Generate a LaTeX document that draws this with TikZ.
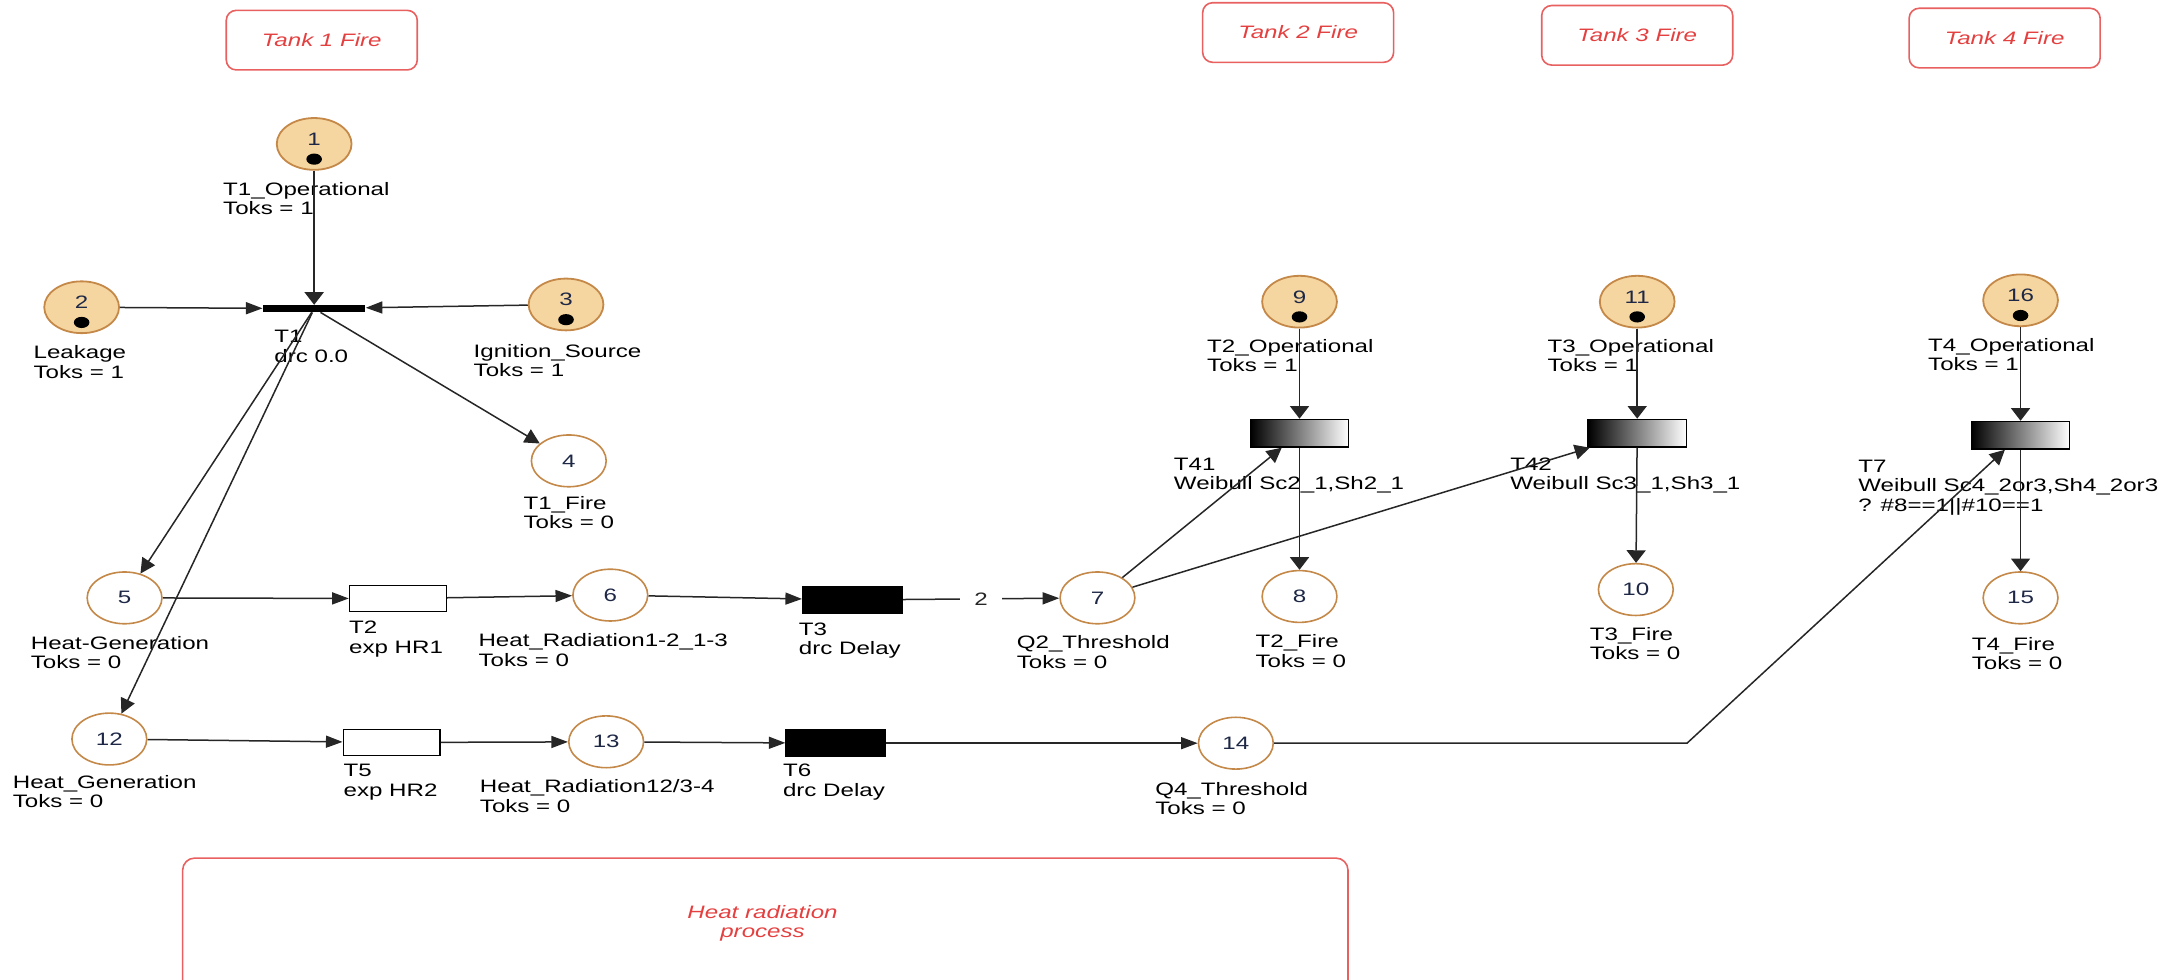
\documentclass[tikz,border=0pt]{standalone}
\usepackage{fontspec}
\setmainfont{Liberation Sans}[FakeStretch=1.34]
\usepackage{tikz}
\usetikzlibrary{shapes.geometric, arrows.meta, positioning}
\definecolor{placefill}{RGB}{246,214,160}
\definecolor{placeedge}{RGB}{196,136,72}
\definecolor{tankred}{RGB}{228,64,64}
\definecolor{tankedge}{RGB}{232,96,96}
\definecolor{numblue}{RGB}{30,40,70}
\newcommand{\lblfont}{\fontsize{9pt}{9.7pt}\selectfont}
\tikzstyle{mplace} = [ellipse, draw=placeedge, fill=placefill, line width=0.9pt, minimum width=37.4pt, minimum height=25.9pt, inner sep=0, text=numblue, text height=6pt, text depth=4.6pt]
\tikzstyle{wplace} = [ellipse, draw=placeedge, fill=white, line width=0.8pt, minimum width=37.4pt, minimum height=25.9pt, inner sep=0, text=numblue]
\tikzstyle{bar} = [rectangle, fill=black, minimum width=51.2pt, minimum height=3.4pt, inner sep=0]
\tikzstyle{etrans} = [rectangle, draw, fill=white, line width=0.7pt, minimum width=48.4pt, minimum height=13.1pt, inner sep=0]
\tikzstyle{dtrans} = [rectangle, draw, fill=black, line width=0.7pt, minimum width=49.8pt, minimum height=13.1pt, inner sep=0]
\tikzstyle{wtrans} = [rectangle, draw, left color=black, right color=white, line width=0.7pt, minimum width=49.1pt, minimum height=13.8pt, inner sep=0]
\tikzstyle{lbl} = [anchor=north west, align=left, inner sep=0, text=black]
\tikzstyle{tank} = [rectangle, rounded corners=5pt, draw=tankedge, line width=0.8pt, text=tankred, font=\lblfont\itshape, minimum width=95.5pt, minimum height=29.8pt]
\tikzstyle{hrbox} = [rectangle, rounded corners=6pt, draw=tankedge, line width=0.8pt, minimum width=582.7pt, minimum height=83pt]
\tikzstyle{weight} = [fill=white, inner xsep=7pt, inner ysep=1pt]
\tikzstyle{line} = [draw, line width=0.75pt, black!85, -{Triangle[length=7.5pt,width=7.5pt]}]
\tikzstyle{hline} = [line, -{Triangle[length=8.3pt,width=6pt]}]
\tikzstyle{vline} = [line, -{Triangle[length=6.3pt,width=9.5pt]}]

\begin{document}
\begin{tikzpicture}[x=0.692pt, y=-0.692pt, every node/.style={font=\lblfont}]
			\useasboundingbox (0,0) rectangle (1568,708);
			\clip (0,0) rectangle (1568,708);

			% group boxes
			\node [tank] (tank1) at (232.5,29) {Tank 1 Fire};
			\node [tank] (tank2) at (938,23.5) {Tank 2 Fire};
			\node [tank] (tank3) at (1183,25.5) {Tank 3 Fire};
			\node [tank] (tank4) at (1448.5,27.5) {Tank 4 Fire};
			\node [hrbox] (hrbox) at (553,680) {};
			\node [align=center, text=tankred, font=\lblfont\itshape] (hrlabel) at (551,667) {Heat radiation\\process};

			% places
			\node [mplace] (p1) at (227,104) {1};
			\node [mplace] (p2) at (59,222) {2};
			\node [mplace] (p3) at (409,220) {3};
			\node [wplace] (p4) at (411,333) {4};
			\node [wplace] (p5) at (90,432) {5};
			\node [wplace] (p6) at (441,430) {6};
			\node [wplace] (p7) at (793,432) {7};
			\node [wplace] (p8) at (939,431) {8};
			\node [mplace] (p9) at (939,218) {9};
			\node [wplace] (p10) at (1182,426) {10};
			\node [mplace] (p11) at (1183,218) {11};
			\node [wplace] (p12) at (79,534) {12};
			\node [wplace] (p13) at (438,536) {13};
			\node [wplace] (p14) at (893,537) {14};
			\node [wplace] (p15) at (1460,432) {15};
			\node [mplace] (p16) at (1460,217) {16};

			% tokens
			\fill ([yshift=-7.6pt]p1.center) ellipse [x radius=3.9pt, y radius=2.8pt];
			\fill ([yshift=-7.6pt]p2.center) ellipse [x radius=3.9pt, y radius=2.8pt];
			\fill ([yshift=-7.6pt]p3.center) ellipse [x radius=3.9pt, y radius=2.8pt];
			\fill ([yshift=-7.6pt]p9.center) ellipse [x radius=3.9pt, y radius=2.8pt];
			\fill ([yshift=-7.6pt]p11.center) ellipse [x radius=3.9pt, y radius=2.8pt];
			\fill ([yshift=-7.6pt]p16.center) ellipse [x radius=3.9pt, y radius=2.8pt];

			% transitions
			\node [bar] (t1) at (227,223) {};
			\node [etrans] (t2) at (287.5,432.5) {};
			\node [dtrans] (t3) at (616,433.5) {};
			\node [wtrans] (t41) at (939,313) {};
			\node [wtrans] (t42) at (1183,313) {};
			\node [wtrans] (t7) at (1460,314.5) {};
			\node [etrans] (t5) at (283,536.5) {};
			\node [dtrans] (t6) at (604,537) {};
			\coordinate (bend) at (1219,537);

			% labels
			\node [lbl] (l1) at (161,131.5) {T1\_Operational\\Toks = 1};
			\node [lbl] (l2) at (24,249.5) {Leakage\\Toks = 1};
			\node [lbl] (l3) at (342,248.5) {Ignition\_Source\\Toks = 1};
			\node [lbl] (lt1) at (198,238.5) {T1\\drc 0.0};
			\node [lbl] (l4) at (378,358.5) {T1\_Fire\\Toks = 0};
			\node [lbl] (l5) at (22,459.5) {Heat-Generation\\Toks = 0};
			\node [lbl] (lt2) at (252,448.5) {T2\\exp HR1};
			\node [lbl] (l6) at (345.5,457.5) {Heat\_Radiation1-2\_1-3\\Toks = 0};
			\node [lbl] (lt3) at (577,449.5) {T3\\drc Delay};
			\node [lbl] (l7) at (734.5,459) {Q2\_Threshold\\Toks = 0};
			\node [lbl] (l8) at (907,458.5) {T2\_Fire\\Toks = 0};
			\node [lbl] (l9) at (872,245) {T2\_Operational\\Toks = 1};
			\node [lbl] (lt41) at (848,330.5) {T41\\Weibull Sc2\_1,Sh2\_1};
			\node [lbl] (l11) at (1118,245) {T3\_Operational\\Toks = 1};
			\node [lbl] (lt42) at (1091,330.5) {T42\\Weibull Sc3\_1,Sh3\_1};
			\node [lbl] (l10) at (1148.5,453) {T3\_Fire\\Toks = 0};
			\node [lbl] (l16) at (1393,244) {T4\_Operational\\Toks = 1};
			\node [lbl] (lt7) at (1342.5,332) {T7\\Weibull Sc4\_2or3,Sh4\_2or3\\? \#8==1||\#10==1};
			\node [lbl] (l15) at (1424.5,460) {T4\_Fire\\Toks = 0};
			\node [lbl] (l12) at (9,560) {Heat\_Generation\\Toks = 0};
			\node [lbl] (lt5) at (248,552) {T5\\exp HR2};
			\node [lbl] (l13) at (346.5,563) {Heat\_Radiation12/3-4\\Toks = 0};
			\node [lbl] (lt6) at (565.5,552) {T6\\drc Delay};
			\node [lbl] (l14) at (834.5,565) {Q4\_Threshold\\Toks = 0};

			% arcs
			\path [vline] (p1) -- (t1);
			\path [hline] (p2) -- (t1);
			\path [hline] (p3) -- (t1);
			\path [line] (t1) -- (p4);
			\path [line] (t1) -- (p5);
			\path [line] (t1) -- (p12);
			\path [hline] (p5) -- (t2);
			\path [hline] (t2) -- (p6);
			\path [hline] (p6) -- (t3);
			\path [hline] (t3) -- node [weight] (w2) {2} (p7);
			\path [line] (p7) -- (t41);
			\path [line] (p7) -- (t42);
			\path [vline] (p9) -- (t41);
			\path [vline] (t41) -- (p8);
			\path [vline] (p11) -- (t42);
			\path [vline] (t42) -- (p10);
			\path [vline] (p16) -- (t7);
			\path [vline] (t7) -- (p15);
			\path [hline] (p12) -- (t5);
			\path [hline] (t5) -- (p13);
			\path [hline] (p13) -- (t6);
			\path [hline] (t6) -- (p14);
			\path [line] (p14) -- (bend) -- (t7);
		\end{tikzpicture}
\end{document}
